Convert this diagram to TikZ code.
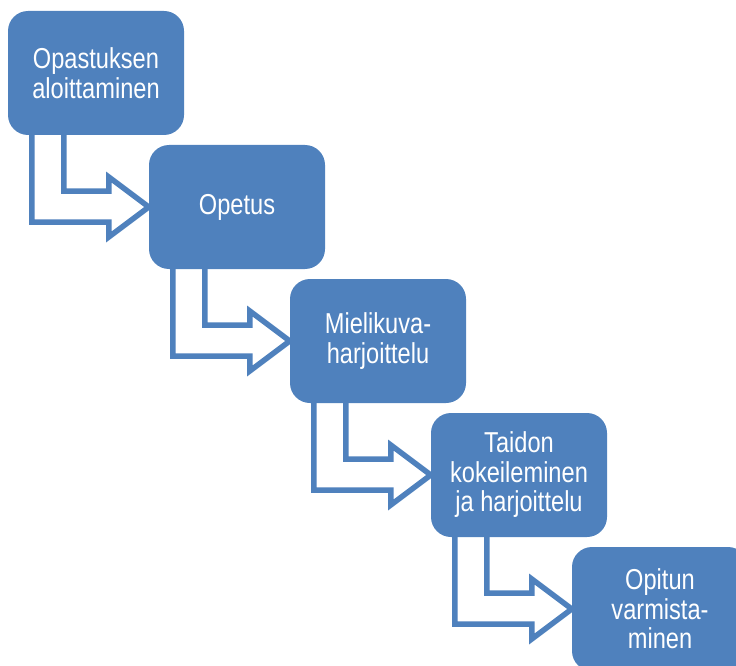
\documentclass[tikz,border=0pt]{standalone}
\usepackage{fontspec}
\setmainfont{Liberation Sans}[FakeStretch=0.82]
\usetikzlibrary{calc}
\pgfdeclarelayer{bg}
\pgfsetlayers{bg,main}
\definecolor{stepblue}{RGB}{79,129,189}
\tikzset{
  stepbox/.style={rectangle, rounded corners=20pt, fill=stepblue, draw=none,
    minimum width=176pt, minimum height=124pt, inner sep=0pt,
    text=white, align=center,
    font=\fontsize{28.8pt}{29.5pt}\selectfont},
  bentarrow/.style={draw=stepblue, fill=white, line width=5.5pt, line join=miter}
}
\begin{document}
\begin{tikzpicture}[x=1pt, y=-1pt]
  \path[use as bounding box] (0,0) rectangle (736,666);
  \clip (0,0) rectangle (736,666);

  \node[stepbox] (b1) at (96,73)  {Opastuksen\\aloittaminen};
  \node[stepbox] (b2) at (237,207) {Opetus};
  \node[stepbox] (b3) at (378,341) {Mielikuva-\\harjoittelu};
  \node[stepbox] (b4) at (519,475) {Taidon\\kokeileminen\\ja harjoittelu};
  \node[stepbox] (b5) at (660,609) {Opitun\\varmista-\\minen};

  % hollow bent arrows between consecutive steps, drawn behind the boxes
  \begin{pgfonlayer}{bg}
    \foreach \a/\b in {b1/b2, b2/b3, b3/b4, b4/b5} {
      \draw[bentarrow]
        ($(\a.south west)+(24,-6)$) |- ($(\b.west)+(-40,15)$)
        -- ++(0,15) -- (\b.west) -- ++(-40,-30) -- ++(0,14)
        -| ($(\a.south west)+(56,-6)$);
    }
  \end{pgfonlayer}
\end{tikzpicture}
\end{document}
